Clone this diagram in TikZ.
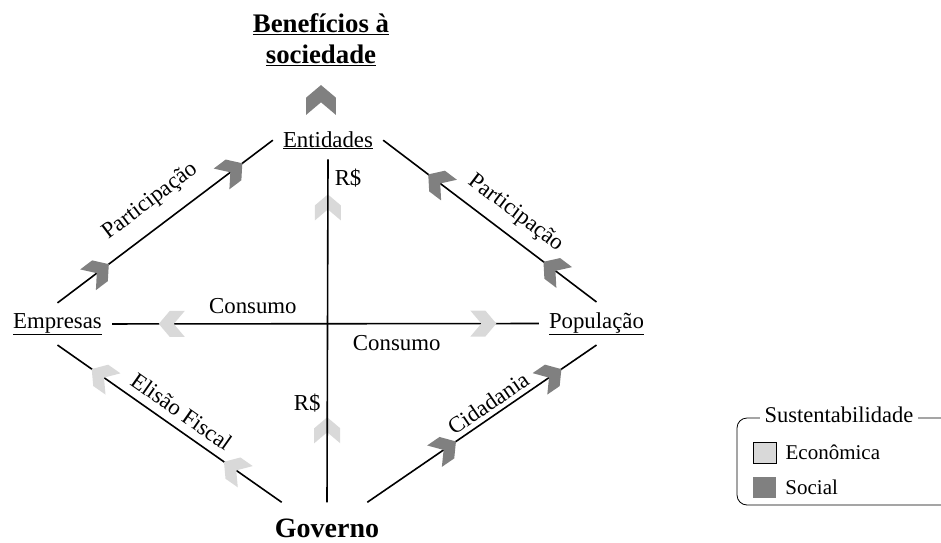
\documentclass[tikz,border=0pt]{standalone}
\usepackage{fontspec}
\setmainfont{Liberation Serif}
\usetikzlibrary{positioning,calc}

\definecolor{econ}{RGB}{217,217,217}
\definecolor{soc}{RGB}{128,128,128}

\tikzset{
	lugar/.style={inner sep=10pt, font=\fontsize{22.8}{27}\selectfont},
	rotulo/.style={inner sep=0pt, font=\fontsize{22.8}{27}\selectfont},
	ligacao/.style={line width=1.6pt},
	seta/.pic={\fill[#1] (13,0) -- (2,-13) -- (-13,-13) -- (-2,0) -- (-13,13) -- (2,13) -- cycle;},
	setavolta/.pic={\fill[#1] (-13,0) -- (-2,-13) -- (13,-13) -- (2,0) -- (13,13) -- (-2,13) -- cycle;},
	quadro/.style={minimum width=23pt, minimum height=21pt, inner sep=0pt},
	legenda/.style={inner sep=0pt, font=\fontsize{21}{25}\selectfont},
}

\begin{document}
\begin{tikzpicture}[x=1pt, y=1pt]
	\useasboundingbox (0,0) rectangle (941,542);

	% Atores
	\node[lugar, anchor=base] (entidades) at (328,395) {\underline{Entidades}};
	\node[lugar, anchor=base] (empresas) at (57.5,214) {\underline{Empresas}};
	\node[lugar, anchor=base] (populacao) at (596.5,214) {\underline{População}};
	\node[anchor=base, inner sep=3pt, font=\fontsize{28}{33}\selectfont\bfseries] (governo) at (327,5) {Governo};
	\node[align=center, font=\fontsize{26.8}{31}\selectfont\bfseries] (beneficios) at (321,502)
		{\underline{Benefícios à}\\\underline{sociedade}};
	\pic[rotate=90, scale=1.15] at (321,442) {seta=soc};

	% Fluxos
	\draw[ligacao] (empresas.north) -- (entidades.west)
		node[rotulo, pos=.5, sloped, above=14pt] {Participação};
	\path (empresas.north) -- (entidades.west)
		pic[pos=.19, sloped] {seta=soc} pic[pos=.81, sloped] {seta=soc};

	\draw[ligacao] (entidades.east) -- (populacao.north)
		node[rotulo, pos=.56, sloped, above=11pt] {Participação};
	\path (entidades.east) -- (populacao.north)
		pic[pos=.26, sloped] {setavolta=soc} pic[pos=.8, sloped] {setavolta=soc};

	\draw[ligacao] (empresas.east) -- (populacao.west)
		node[rotulo, pos=.33, above=9pt] {Consumo}
		node[rotulo, pos=.667, below=11pt] {Consumo};
	\path (empresas.east) -- (populacao.west)
		pic[pos=.14] {setavolta=econ} pic[pos=.87] {seta=econ};

	\path (entidades.south) -- ([yshift=13pt]governo.north)
		pic[pos=.14, rotate=90] {seta=econ} pic[pos=.79, rotate=90] {seta=econ};
	\draw[ligacao] (entidades.south) -- ([yshift=13pt]governo.north)
		node[rotulo, pos=.055, right=6pt] {R\$}
		node[rotulo, pos=.71, left=6pt] {R\$};

	\draw[ligacao] (empresas.south) -- ([xshift=10pt, yshift=13pt]governo.north west)
		node[rotulo, pos=.51, sloped, above=8pt] {Elisão Fiscal};
	\path (empresas.south) -- ([xshift=10pt, yshift=13pt]governo.north west)
		pic[pos=.2, sloped] {setavolta=econ} pic[pos=.79, sloped] {setavolta=econ};

	\draw[ligacao] ([xshift=-15pt, yshift=13pt]governo.north east) -- (populacao.south)
		node[rotulo, pos=.56, sloped, above=4.5pt] {Cidadania};
	\path ([xshift=-15pt, yshift=13pt]governo.north east) -- (populacao.south)
		pic[pos=.34, sloped] {seta=soc} pic[pos=.8, sloped] {seta=soc};

	% Legenda
	\draw[line width=0.8pt, rounded corners=10pt] (945,124) -- (737,124) -- (737,37) -- (945,37);
	\node[legenda, anchor=base, fill=white, inner xsep=5pt, inner ysep=3pt,
		font=\fontsize{22.5}{26}\selectfont] (titulo) at (839,120) {Sustentabilidade};
	\node[quadro, draw=black, line width=0.8pt, fill=econ] (qecon) at (764.5,89.5) {};
	\node[quadro, fill=soc] (qsoc) at (764.5,55) {};
	\node[legenda, right=9pt of qecon] (tecon) {Econômica};
	\node[legenda, right=9pt of qsoc] (tsoc) {Social};
\end{tikzpicture}
\end{document}
